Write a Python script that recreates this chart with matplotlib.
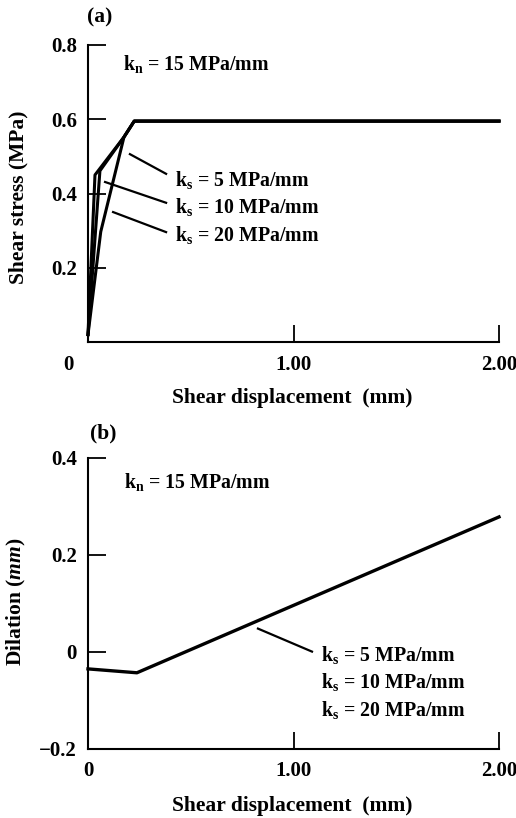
import matplotlib
matplotlib.use("Agg")
import matplotlib.pyplot as plt
import matplotlib.transforms as mtransforms

# Schriften
plt.rcParams['font.family'] = ['Liberation Serif', 'DejaVu Serif']
plt.rcParams['font.weight'] = 'bold'
plt.rcParams['mathtext.fontset'] = 'custom'
plt.rcParams['mathtext.rm'] = 'Liberation Serif:bold'
plt.rcParams['mathtext.it'] = 'Liberation Serif:italic:bold'
plt.rcParams['mathtext.bf'] = 'Liberation Serif:bold'

# Daten (a) Schubspannung
x_ks20 = [0, 0.034, 0.175, 0.225, 2.0]
y_ks20 = [0.02, 0.450, 0.552, 0.595, 0.595]
x_ks10 = [0, 0.058, 0.175, 0.225, 2.0]
y_ks10 = [0.02, 0.461, 0.552, 0.595, 0.595]
x_ks5 = [0, 0.062, 0.175, 0.225, 2.0]
y_ks5 = [0.02, 0.297, 0.552, 0.595, 0.595]

# Daten (b) Dilatation
x_dil = [0, 0.238, 2.0]
y_dil = [-0.035, -0.043, 0.278]

ks_labels = [r'$\mathrm{k_s}$ = 5 MPa/mm',
             r'$\mathrm{k_s}$ = 10 MPa/mm',
             r'$\mathrm{k_s}$ = 20 MPa/mm']
kn_label = r'$\mathrm{k_n}$ = 15 MPa/mm'

# Hinweislinien (start, ende) und Textpositionen
leaders_a = [((0.204, 0.506), (0.380, 0.453)),
             ((0.083, 0.431), (0.380, 0.375)),
             ((0.122, 0.350), (0.380, 0.296))]
label_y_a = [0.420, 0.348, 0.272]
leader_b = ((0.827, 0.048), (1.09, 0.0006))
label_y_b = [-0.019, -0.074, -0.132]

fig = plt.figure(figsize=(5.16, 8.18), dpi=100)
ax1 = fig.add_axes([88/516, 1-342/818, 411/516, 297/818])
ax2 = fig.add_axes([88/516, 1-749/818, 411/516, 291.3/818])

fs_tick = 15
fs_lab = 15.5
fs_txt = 14.3

for ax in (ax1, ax2):
    for s in ('top', 'right'):
        ax.spines[s].set_visible(False)
    for s in ('left', 'bottom'):
        ax.spines[s].set_linewidth(1.5)
    ax.set_xlim(0, 2.0)
    ax.set_xticks([0, 1.0, 2.0])
    ax.set_xticklabels(['0', '1.00', '2.00'])
    ax.tick_params(axis='y', direction='in', length=13, width=1.3, pad=8, labelsize=fs_tick)
    ax.tick_params(axis='x', direction='in', length=12, width=1.3, pad=9, labelsize=fs_tick)
    ax.xaxis.get_major_ticks()[0].tick1line.set_visible(False)

# (a)
for xs, ys in ((x_ks20, y_ks20), (x_ks10, y_ks10), (x_ks5, y_ks5)):
    ax1.plot(xs, ys, color='black', lw=2.2, clip_on=False)
ax1.set_ylim(0, 0.8)
ax1.set_yticks([0.2, 0.4, 0.6, 0.8])
ax1.set_yticklabels(['0.2', '0.4', '0.6', '0.8'])
# "0" etwas nach links versetzt
lab0 = ax1.get_xticklabels()[0]
lab0.set_transform(lab0.get_transform() + mtransforms.ScaledTranslation(-20/100, 0, fig.dpi_scale_trans))
for (p0, p1) in leaders_a:
    ax1.plot([p0[0], p1[0]], [p0[1], p1[1]], color='black', lw=1.6)
for lab, yy in zip(ks_labels, label_y_a):
    ax1.text(0.423, yy, lab, fontsize=fs_txt, va='baseline', ha='left')
ax1.text(0.17, 0.733, kn_label, fontsize=fs_txt, va='baseline', ha='left')
ax1.set_xlabel('Shear displacement  (mm)', fontsize=fs_lab, fontweight='bold')
ax1.set_ylabel('Shear stress (MPa)', fontsize=fs_lab, fontweight='bold')
ax1.xaxis.set_label_coords(0.496, -0.155)
ax1.yaxis.set_label_coords(-0.146, 0.488)
fig.text(100/516, 1-17/818, '(a)', fontsize=fs_lab, ha='center', va='center')

# (b)
ax2.plot(x_dil, y_dil, color='black', lw=2.4, clip_on=False)
ax2.set_ylim(-0.2, 0.4)
ax2.set_yticks([-0.2, 0, 0.2, 0.4])
ax2.set_yticklabels(['\u22120.2', '0', '0.2', '0.4'])
ax2.yaxis.get_major_ticks()[0].tick1line.set_visible(False)
ax2.plot([leader_b[0][0], leader_b[1][0]], [leader_b[0][1], leader_b[1][1]], color='black', lw=1.6)
for lab, yy in zip(ks_labels, label_y_b):
    ax2.text(1.134, yy, lab, fontsize=fs_txt, va='baseline', ha='left')
ax2.text(0.175, 0.338, kn_label, fontsize=fs_txt, va='baseline', ha='left')
ax2.set_xlabel('Shear displacement  (mm)', fontsize=fs_lab, fontweight='bold')
ax2.set_ylabel(r'Dilation $(mm)$', fontsize=fs_lab, fontweight='bold')
ax2.xaxis.set_label_coords(0.496, -0.162)
ax2.yaxis.set_label_coords(-0.146, 0.505)
fig.text(103/516, 1-433/818, '(b)', fontsize=fs_lab, ha='center', va='center')

fig.savefig('out.png', dpi=100)
